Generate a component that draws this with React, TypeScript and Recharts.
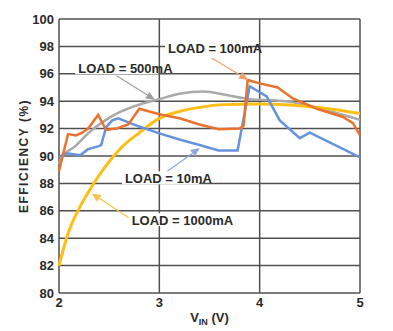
import React from 'react';
import { LineChart, Line, XAxis, YAxis, CartesianGrid, ReferenceLine, ReferenceDot } from 'recharts';

const xTicks = [2, 3, 4, 5];
const yTicks = [80, 82, 84, 86, 88, 90, 92, 94, 96, 98, 100];

// LOAD = 100mA
const vin100 = [2.0, 2.09, 2.17, 2.23, 2.29, 2.39, 2.47, 2.57, 2.69, 2.8, 3.0, 3.2, 3.4, 3.59, 3.8, 3.84, 3.88, 4.0, 4.18, 4.33, 4.57, 4.83, 4.93, 5.0];
const eff100 = [88.9, 91.6, 91.5, 91.7, 92.0, 93.0, 91.9, 92.0, 92.3, 93.45, 93.05, 92.75, 92.3, 91.95, 92.0, 92.2, 95.55, 95.3, 95.0, 94.2, 93.45, 92.85, 92.4, 91.5];

// LOAD = 10mA
const vin10 = [2.0, 2.08, 2.21, 2.29, 2.39, 2.42, 2.47, 2.53, 2.59, 2.8, 3.0, 3.2, 3.4, 3.59, 3.78, 3.9, 4.07, 4.2, 4.4, 4.5, 5.0];
const eff10 = [89.95, 90.2, 90.05, 90.5, 90.7, 90.8, 92.1, 92.6, 92.75, 92.15, 91.65, 91.2, 90.8, 90.4, 90.4, 95.1, 94.35, 92.6, 91.3, 91.7, 89.9];

// LOAD = 500mA
const vin500 = [2.0, 2.03, 2.16, 2.29, 2.46, 2.62, 2.82, 3.0, 3.2, 3.44, 3.67, 3.9, 4.0, 4.3, 4.63, 5.0];
const eff500 = [89.4, 89.95, 90.7, 91.65, 92.6, 93.25, 93.8, 94.15, 94.55, 94.7, 94.45, 94.15, 94.1, 93.95, 93.4, 92.65];

// LOAD = 1000mA
const vin1000 = [2.0, 2.09, 2.21, 2.325, 2.46, 2.62, 2.8, 3.0, 3.2, 3.4, 3.64, 4.0, 4.3, 4.63, 5.0];
const eff1000 = [82.0, 84.35, 86.3, 87.75, 89.2, 90.6, 91.7, 92.75, 93.25, 93.55, 93.75, 93.8, 93.73, 93.5, 93.1];

const labels = ['LOAD = 100mA', 'LOAD = 500mA', 'LOAD = 10mA', 'LOAD = 1000mA'];
const labelPos = [
  { x: 3.086, y: 97.83 },
  { x: 2.192, y: 96.42 },
  { x: 2.657, y: 88.37 },
  { x: 2.724, y: 85.32 },
];
const arrows = [
  [{ x: 3.521, y: 97.15 }, { x: 3.885, y: 95.56 }],
  [{ x: 2.575, y: 95.85 }, { x: 2.956, y: 94.1 }],
  [{ x: 3.056, y: 88.76 }, { x: 3.404, y: 90.59 }],
  [{ x: 2.707, y: 85.44 }, { x: 2.326, y: 87.27 }],
];

const toData = (xs: number[], ys: number[]) => xs.map((v, i) => ({ vin: v, eff: ys[i] }));
const d100 = toData(vin100, eff100);
const d10 = toData(vin10, eff10);
const d500 = toData(vin500, eff500);
const d1000 = toData(vin1000, eff1000);

const C100 = '#E9722E';
const C10 = '#6593DC';
const C500 = '#A9A9A9';
const C1000 = '#FFBE14';
const arrowColors = ['#F2A070', '#A0A0A0', '#8DA8DD', '#F7C448'];

const FONT = '"Liberation Sans Narrow", "Arial Narrow", "Liberation Sans", Arial, sans-serif';
const TXT = '#2a2a2a';

const makeArrow = (color: string) => (props: any) => {
  const { x1, y1, x2, y2 } = props;
  const ang = Math.atan2(y2 - y1, x2 - x1);
  const L = 9, W = 4;
  const bx = x2 - L * Math.cos(ang);
  const by = y2 - L * Math.sin(ang);
  const px = -Math.sin(ang) * W;
  const py = Math.cos(ang) * W;
  return (
    <g>
      <line x1={x1} y1={y1} x2={bx} y2={by} stroke={color} strokeWidth={1.2} />
      <polygon points={`${x2},${y2} ${bx + px},${by + py} ${bx - px},${by - py}`} fill={color} />
    </g>
  );
};

const labelWidths = [78, 78, 72, 84];

const makeLabel = (text: string, w: number) => (props: any) => {
  const { cx, cy } = props;
  return (
    <g>
      <rect x={cx - 3} y={cy - 7} width={w + 5} height={13} fill="#fff" />
      <text x={cx} y={cy} dy="0.36em" fontFamily={FONT} fontWeight="bold" fontSize={13} fill={TXT}>{text}</text>
    </g>
  );
};

const XLabel = (props: any) => {
  const vb = props.viewBox || { x: 59, y: 293, width: 301, height: 30 };
  const cx = vb.x + vb.width / 2;
  return (
    <text x={cx} y={322} textAnchor="middle" fontFamily={FONT} fontWeight="bold" fontSize={13} fill={TXT}>
      V<tspan fontSize={9} dy={3}>IN</tspan><tspan dy={-3}> (V)</tspan>
    </text>
  );
};

const YLabel = (props: any) => {
  const vb = props.viewBox || { x: 0, y: 19, width: 59, height: 274 };
  const cy = vb.y + vb.height / 2;
  return (
    <text x={28} y={cy} transform={`rotate(-90 28 ${cy})`} textAnchor="middle" fontFamily={FONT} fontWeight="bold" fontSize={12} fill={TXT} letterSpacing={1.5}>
      EFFICIENCY (%)
    </text>
  );
};

export default function App() {
  return (
    <div style={{ position: 'absolute', left: 0, top: 0, background: '#fff' }}>
      <LineChart width={393} height={331} margin={{ top: 19, right: 33, left: 0, bottom: 8 }}>
        <CartesianGrid stroke="#505050" strokeWidth={1.5} />
        <XAxis
          dataKey="vin"
          type="number"
          domain={[2, 5]}
          ticks={xTicks}
          axisLine={false}
          tickLine={false}
          tickSize={0}
          tickMargin={5}
          height={30}
          tick={{ fontFamily: FONT, fontSize: 13, fontWeight: 'bold', fill: TXT }}
          label={<XLabel />}
          allowDuplicatedCategory={false}
        />
        <YAxis
          type="number"
          domain={[80, 100]}
          ticks={yTicks}
          axisLine={false}
          tickLine={false}
          tickSize={0}
          tickMargin={5}
          width={59}
          tick={{ fontFamily: FONT, fontSize: 13, fontWeight: 'bold', fill: TXT }}
          label={<YLabel />}
        />
        {labels.map((t, i) => (
          <ReferenceDot key={'l' + i} x={labelPos[i].x} y={labelPos[i].y} r={0} shape={makeLabel(t, labelWidths[i])} />
        ))}
        <Line data={d500} dataKey="eff" type="monotone" stroke={C500} strokeWidth={2.5} dot={false} isAnimationActive={false} />
        <Line data={d1000} dataKey="eff" type="monotone" stroke={C1000} strokeWidth={3} dot={false} isAnimationActive={false} />
        <Line data={d10} dataKey="eff" type="linear" stroke={C10} strokeWidth={2.5} dot={false} isAnimationActive={false} />
        <Line data={d100} dataKey="eff" type="linear" stroke={C100} strokeWidth={2.5} dot={false} isAnimationActive={false} />
        {arrows.map((seg, i) => (
          <ReferenceLine key={'a' + i} segment={seg} shape={makeArrow(arrowColors[i])} />
        ))}
      </LineChart>
    </div>
  );
}
